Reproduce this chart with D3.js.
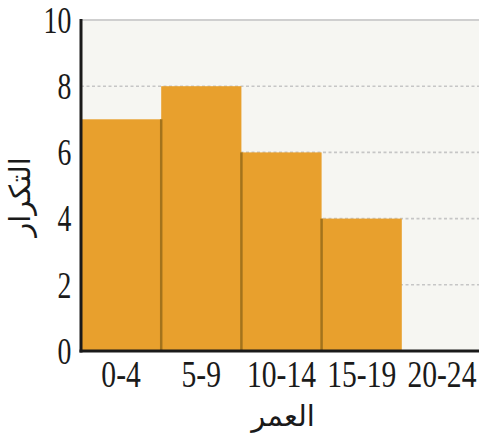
<!DOCTYPE html>
<html>
<head>
<meta charset="utf-8">
<script src="https://cdn.jsdelivr.net/npm/d3@7"></script>
<style>
  html, body { margin: 0; padding: 0; background: #ffffff; }
  svg { display: block; }
</style>
</head>
<body>
<svg id="chart" width="479" height="440"></svg>
<script>
// Age groups and their frequencies
const categories = ["0-4", "5-9", "10-14", "15-19", "20-24"];
const frequencies = [7, 8, 6, 4, 0];
const yTicks = [0, 2, 4, 6, 8, 10];
const xTitle = "العمر";
const yTitle = "التكرار";

const svg = d3.select("#chart");
const plotL = 81, plotR = 482, plotT = 20, plotB = 351;

const x = d3.scaleBand().domain(categories).range([plotL, plotR]).padding(0);
const y = d3.scaleLinear().domain([0, 10]).range([plotB, plotT]);

// plot background
svg.append("rect")
  .attr("x", plotL).attr("y", plotT)
  .attr("width", plotR - plotL).attr("height", plotB - plotT)
  .attr("fill", "#f6f6f2");

// top border line
svg.append("line")
  .attr("x1", plotL).attr("x2", plotR)
  .attr("y1", y(10)).attr("y2", y(10))
  .attr("stroke", "#cfcfcf").attr("stroke-width", 2);

// dashed gridlines
svg.append("g").selectAll("line")
  .data(yTicks.filter(d => d > 0 && d < 10))
  .join("line")
  .attr("x1", plotL).attr("x2", plotR)
  .attr("y1", d => y(d)).attr("y2", d => y(d))
  .attr("stroke", "#c6c6c6").attr("stroke-width", 1.6)
  .attr("stroke-dasharray", "3,2.5");

// bars
const data = categories.map((c, i) => ({ c, v: frequencies[i] }));
svg.append("g").selectAll("rect")
  .data(data.filter(d => d.v > 0))
  .join("rect")
  .attr("x", d => x(d.c))
  .attr("y", d => y(d.v))
  .attr("width", x.bandwidth())
  .attr("height", d => y(0) - y(d.v))
  .attr("fill", "#e8a02d");

// dividers between adjacent bars
const dividers = data.slice(1).map((d, i) => ({ c: d.c, h: Math.min(d.v, data[i].v) }))
  .filter(d => d.h > 0);
svg.append("g").selectAll("line")
  .data(dividers)
  .join("line")
  .attr("x1", d => x(d.c)).attr("x2", d => x(d.c))
  .attr("y1", d => y(d.h)).attr("y2", y(0))
  .attr("stroke", "#a3731c").attr("stroke-width", 2.5);

const serif = "'Liberation Serif', 'Times New Roman', serif";

// y axis
const yAxis = svg.append("g")
  .attr("transform", `translate(${plotL},0)`)
  .call(d3.axisLeft(y).tickValues(yTicks).tickSize(0).tickPadding(13));
yAxis.select(".domain").attr("stroke", "#1a1a1a").attr("stroke-width", 3)
  .attr("d", `M0,${plotT - 1}V${plotB + 1.5}`);
yAxis.selectAll("text")
  .attr("font-family", serif).attr("font-size", 37).attr("fill", "#1a1a1a")
  .attr("transform", "scale(0.75,1)")
  .attr("dy", "0.33em");

// x axis
const xAxis = svg.append("g")
  .attr("transform", `translate(0,${plotB})`)
  .call(d3.axisBottom(x).tickSize(0).tickPadding(10));
xAxis.select(".domain").attr("stroke", "#1a1a1a").attr("stroke-width", 3)
  .attr("d", `M${plotL - 1.5},0H${plotR}`);
xAxis.selectAll("text")
  .attr("font-family", serif).attr("font-size", 37).attr("fill", "#1a1a1a")
  .attr("transform", "scale(0.8,1)")
  .attr("dy", "0.71em");

// axis titles
svg.append("text")
  .attr("x", 283).attr("y", 426)
  .attr("text-anchor", "middle")
  .attr("font-family", "'DejaVu Sans', sans-serif").attr("font-size", 29)
  .attr("fill", "#1a1a1a")
  .text(xTitle);

svg.append("text")
  .attr("transform", "translate(30,197) rotate(-90)")
  .attr("text-anchor", "middle")
  .attr("font-family", "'DejaVu Sans', sans-serif").attr("font-size", 29)
  .attr("fill", "#1a1a1a")
  .text(yTitle);
</script>
</body>
</html>
